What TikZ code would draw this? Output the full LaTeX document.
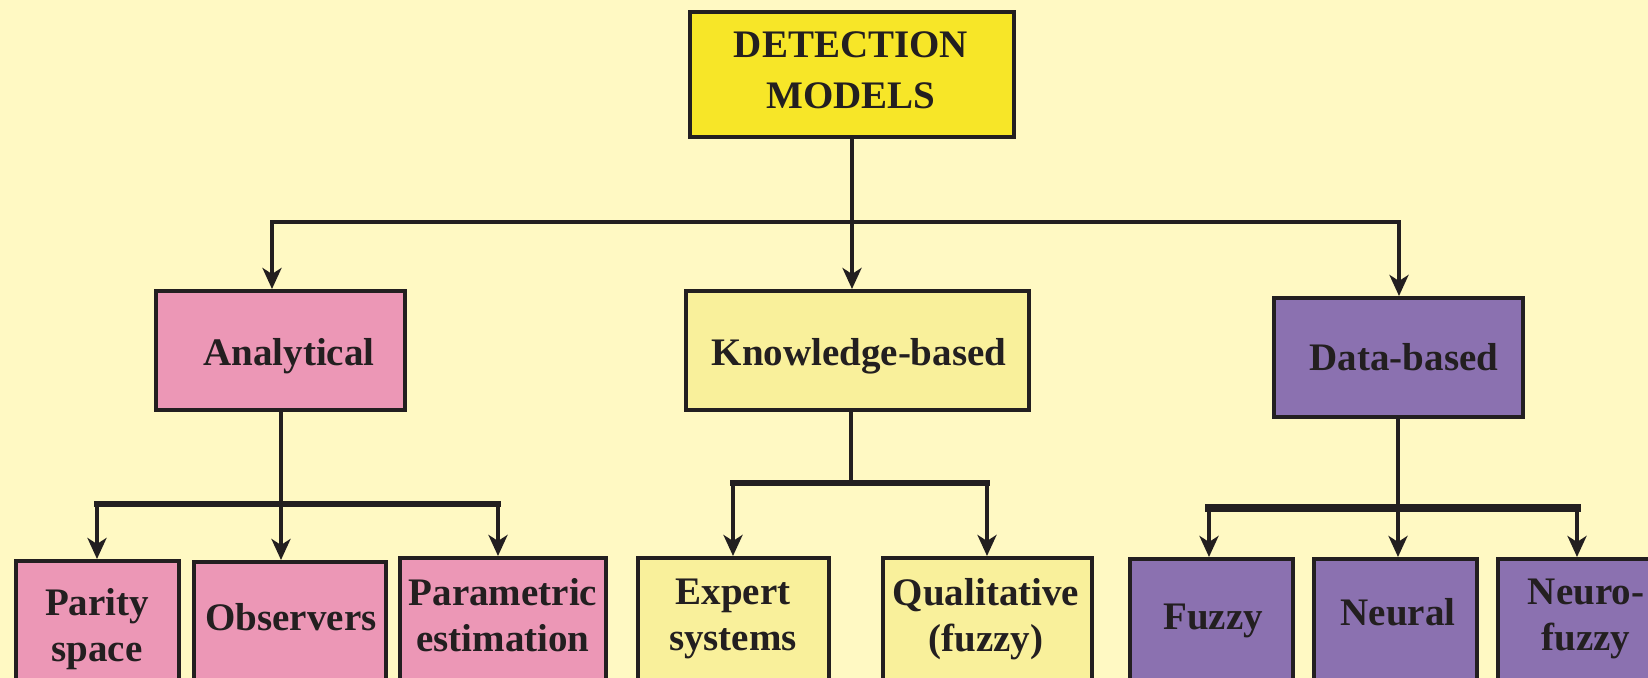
\documentclass[tikz,border=0pt]{standalone}
\usepackage{fontspec}
\setmainfont{Liberation Serif}
\usetikzlibrary{arrows.meta}
\definecolor{bgcol}{HTML}{FFF9C3}
\definecolor{topcol}{HTML}{F7E628}
\definecolor{pinkcol}{HTML}{EC97B6}
\definecolor{lightcol}{HTML}{F9F09B}
\definecolor{purpcol}{HTML}{8B71B0}
\definecolor{ink}{HTML}{231F20}
\tikzset{
  box/.style={draw=ink, line width=2pt, rectangle, inner sep=0pt},
  boxtext/.style={inner sep=0pt, text=ink, align=center,
    font=\fontsize{19.5}{25.5}\selectfont\bfseries},
  leaftext/.style={inner sep=0pt, text=ink, align=center,
    font=\fontsize{19.5}{23}\selectfont\bfseries},
  link/.style={draw=ink, line width=2.3pt, line cap=rect},
  arr/.style={link, -{Stealth[length=10.5pt,width=9.5pt,inset=3pt]}},
}
\begin{document}
\begin{tikzpicture}[x=0.5pt,y=-0.5pt]
  % page area
  \fill[bgcol] (0,0) rectangle (1648,678);
  \useasboundingbox (0,0) rectangle (1648,678);
  \clip (0,0) rectangle (1648,678);

  % root
  \node[box, fill=topcol, minimum width=162pt, minimum height=62.5pt] (top) at (852,74.5) {};
  \node[boxtext] (topT) at (851,70.5) {DETECTION\\MODELS};

  % second level
  \node[box, fill=pinkcol, minimum width=124.5pt, minimum height=59.5pt] (an) at (280.5,350.5) {};
  \node[box, fill=lightcol, minimum width=171.5pt, minimum height=59.5pt] (kb) at (857.5,350.5) {};
  \node[box, fill=purpcol, minimum width=124.5pt, minimum height=59.5pt] (db) at (1398.5,357.5) {};
  \node[boxtext] (anT) at (289,356.5) {Analytical};
  \node[boxtext] (kbT) at (859,356.5) {Knowledge-based};
  \node[boxtext] (dbT) at (1404,357.5) {Data-based};

  % third level boxes (running past the lower edge)
  \node[box, fill=pinkcol, minimum width=81.5pt, minimum height=79.5pt] (par) at (97.5,640.5) {};
  \node[box, fill=pinkcol, minimum width=96pt, minimum height=79pt] (obs) at (290,641) {};
  \node[box, fill=pinkcol, minimum width=103pt, minimum height=81pt] (pe) at (503,639) {};
  \node[box, fill=lightcol, minimum width=95.5pt, minimum height=81pt] (es) at (733.5,639) {};
  \node[box, fill=lightcol, minimum width=104.5pt, minimum height=81pt] (qf) at (987.5,639) {};
  \node[box, fill=purpcol, minimum width=81.5pt, minimum height=80.5pt] (fz) at (1211.5,639.5) {};
  \node[box, fill=purpcol, minimum width=81.5pt, minimum height=80.5pt] (nr) at (1395.5,639.5) {};
  \node[box, fill=purpcol, minimum width=87pt, minimum height=80.5pt] (nf) at (1585,639.5) {};

  % third level labels
  \node[leaftext] (parT) at (97,629) {Parity\\space};
  \node[leaftext] (obsT) at (291,617) {Observers};
  \node[leaftext] (peT) at (503,615) {Parametric\\estimation};
  \node[leaftext] (esT) at (733,619) {Expert\\systems};
  \node[leaftext] (qfT) at (986,619) {Qualitative\\(fuzzy)};
  \node[leaftext] (fzT) at (1213,621) {Fuzzy};
  \node[leaftext] (nrT) at (1398,612) {Neural};
  \node[leaftext] (nfT) at (1586,619) {Neuro-\\fuzzy};

  % root fan-out
  \coordinate (busL) at (272,222);
  \coordinate (busR) at (1399,222);
  \draw[link] (busL) -- (busR);
  \draw[arr] (top.south) -- (top.south |- kb.north);
  \draw[arr] (busL) -- (busL |- an.north);
  \draw[arr] (busR) -- (busR |- db.north);

  % analytical fan-out
  \coordinate (aJ) at (281,504);
  \coordinate (aL) at (97,504);
  \coordinate (aR) at (498,504);
  \draw[link, line width=2.6pt] (aL) -- (aR);
  \draw[arr] (aJ |- an.south) -- (aJ |- obs.north);
  \draw[arr] (aL) -- (aL |- par.north);
  \draw[arr] (aR) -- (aR |- pe.north);

  % knowledge-based fan-out
  \coordinate (kJ) at (851,483);
  \coordinate (kL) at (733,483);
  \coordinate (kR) at (987,483);
  \draw[link] (kJ |- kb.south) -- (kJ);
  \draw[link, line width=2.6pt] (kL) -- (kR);
  \draw[arr] (kL) -- (kL |- es.north);
  \draw[arr] (kR) -- (kR |- qf.north);

  % data-based fan-out
  \coordinate (dJ) at (1398,508);
  \coordinate (dL) at (1209,508);
  \coordinate (dR) at (1577,508);
  \draw[link] (dJ |- db.south) -- (dJ);
  \draw[link, line width=4pt] (dL) -- (dR);
  \draw[arr] (dL) -- (dL |- fz.north);
  \draw[arr] (dJ) -- (dJ |- nr.north);
  \draw[arr] (dR) -- (dR |- nf.north);
\end{tikzpicture}
\end{document}
